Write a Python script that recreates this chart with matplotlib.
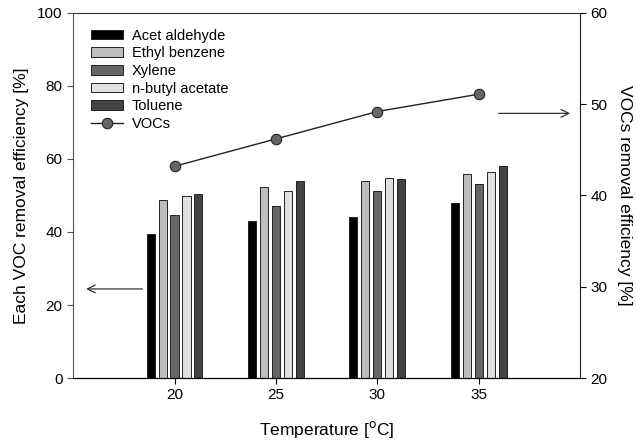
import matplotlib
matplotlib.use("Agg")
import matplotlib.pyplot as plt
import numpy as np

plt.rcParams['font.family'] = ['Liberation Sans', 'DejaVu Sans']

temps = [20, 25, 30, 35]
series_names = ["Acet aldehyde", "Ethyl benzene", "Xylene", "n-butyl acetate", "Toluene"]
acet = [39.5, 43.0, 44.2, 48.0]
ethyl = [48.7, 52.2, 54.0, 55.8]
xylene = [44.6, 47.0, 51.3, 53.2]
nbutyl = [49.8, 51.1, 54.9, 56.4]
toluene = [50.3, 54.1, 54.6, 58.0]
vocs = [43.2, 46.2, 49.2, 51.1]

colors = ["#000000", "#bdbdbd", "#666666", "#e0e0e0", "#444444"]

fig = plt.figure(figsize=(6.36, 4.43), dpi=100)
ax = fig.add_axes([0.115, 0.1467, 0.797, 0.824])
ax2 = ax.twinx()

width = 0.4
step = 0.59
handles = []
for i, (name, vals) in enumerate(zip(series_names, [acet, ethyl, xylene, nbutyl, toluene])):
    x = np.array(temps) + (i - 2) * step
    b = ax.bar(x, vals, width=width, color=colors[i], edgecolor="#222222", linewidth=0.7, label=name)
    handles.append(b)

ln, = ax2.plot(temps, vocs, color="#222222", linewidth=1.0, marker="o", markersize=7.5,
               markerfacecolor="#666666", markeredgecolor="#222222", markeredgewidth=0.8, label="VOCs")
handles.append(ln)

ax.set_xlim(15, 40)
ax.set_ylim(0, 100)
ax2.set_ylim(20, 60)
ax.set_xticks(temps)
ax.set_yticks([0, 20, 40, 60, 80, 100])
ax2.set_yticks([20, 30, 40, 50, 60])

for a in (ax, ax2):
    a.tick_params(labelsize=11, width=0.8, length=4, direction='out')
ax2.spines['top'].set_visible(False)
ax.spines['top'].set_color("#333333")
ax.spines['left'].set_color("#555555")
ax.spines['right'].set_visible(False)
ax2.spines['left'].set_visible(False)
ax2.spines['right'].set_color("#222222")
ax.tick_params(axis='y', color="#555555")

ax.set_xlabel("Temperature [$^{\\mathrm{o}}$C]", fontsize=12.5, labelpad=12)
ax.set_ylabel("Each VOC removal efficiency [%]", fontsize=12.5, labelpad=6)
ax2.set_ylabel("VOCs removal efficiency [%]", fontsize=12.5, rotation=270, labelpad=18)

ax.annotate("", xy=(15.5, 24.4), xytext=(18.55, 24.4),
            arrowprops=dict(arrowstyle="->", color="#333333", lw=0.9, mutation_scale=14))
ax2.annotate("", xy=(39.65, 49.0), xytext=(35.85, 49.0),
             arrowprops=dict(arrowstyle="->", color="#333333", lw=0.9, mutation_scale=14))

leg = ax.legend(handles=handles, loc="upper left", bbox_to_anchor=(0.015, 0.985), frameon=False,
                fontsize=10.5, handlelength=2.2, handleheight=0.65, labelspacing=0.25,
                handletextpad=0.6, borderaxespad=0.3)

fig.savefig("out.png", dpi=100)
